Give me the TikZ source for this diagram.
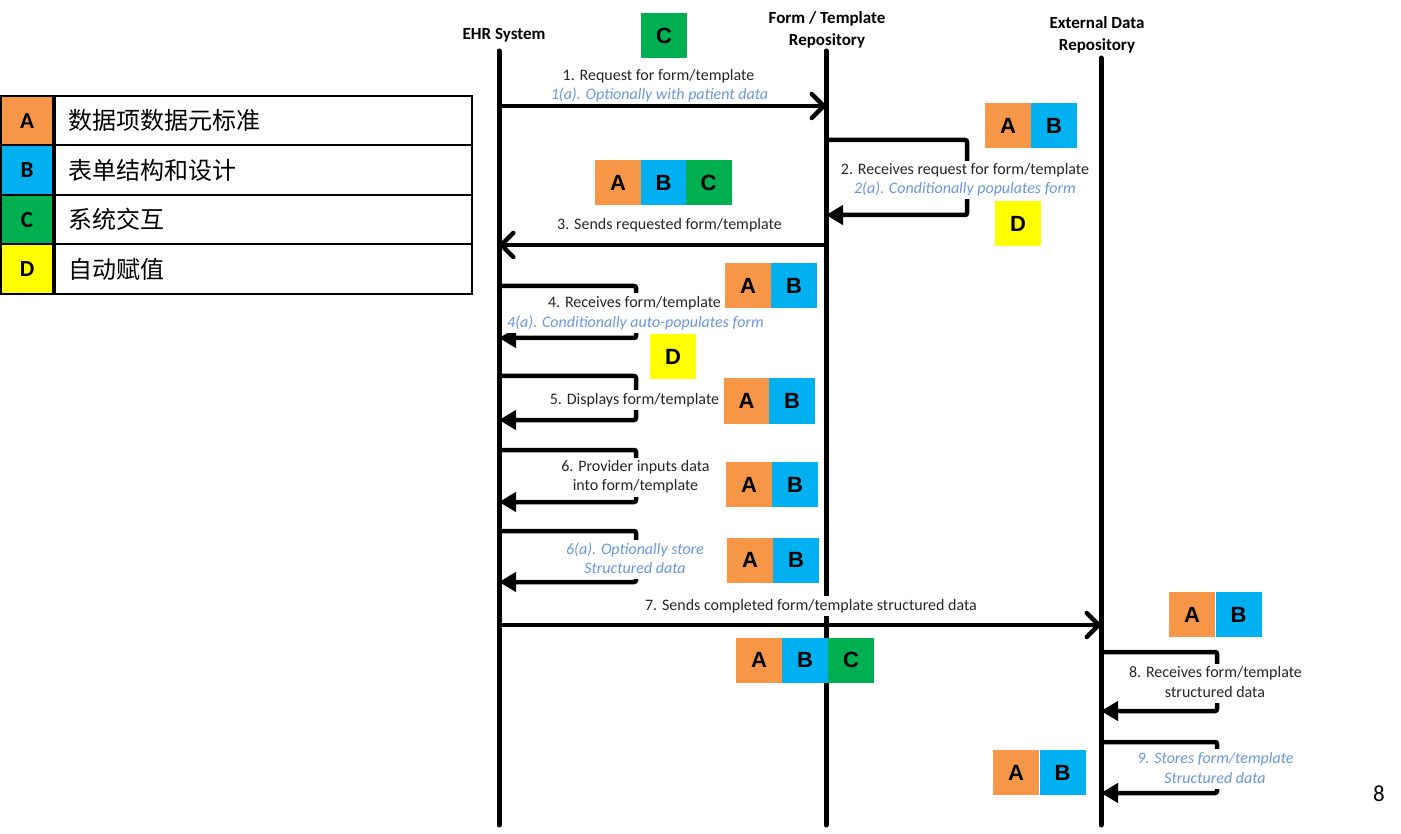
\documentclass[tikz,border=0pt]{standalone}
\usepackage{fontspec}
\setmainfont{Carlito}
\newfontfamily\cjk{Noto Sans CJK SC}
\newfontfamily\arialfont{Liberation Sans}
\usetikzlibrary{arrows.meta}
\definecolor{cA}{HTML}{F79646}
\definecolor{cB}{HTML}{00B0F0}
\definecolor{cC}{HTML}{00B050}
\definecolor{cD}{HTML}{FFFF00}
\definecolor{noteblue}{HTML}{6A98D8}
\definecolor{ink}{HTML}{262626}
\tikzset{
  lifeline/.style={line width=5pt, line cap=round},
  msg/.style={line width=4.5pt, -{Straight Barb[length=12pt,width=24pt,round]}},
  ret/.style={line width=4.5pt, rounded corners=2pt, -{Triangle[length=17pt,width=19pt]}},
  lbl/.style={fill=white, text=ink, font=\fontsize{16}{19}\selectfont, inner xsep=1pt, inner ysep=2pt, text height=12pt, text depth=4pt, anchor=base},
  notelbl/.style={lbl, text=noteblue, font=\fontsize{16}{19}\selectfont\itshape},
  badge/.style={minimum width=46pt, minimum height=45pt, inner sep=0pt, font=\arialfont\bfseries\fontsize{22}{22}\selectfont, text=black},
  hdr/.style={font=\bfseries\fontsize{17}{20}\selectfont, text=black, anchor=base},
  legkey/.style={draw=black, line width=2pt, minimum width=52pt, minimum height=49.5pt, inner sep=0pt, font=\bfseries\fontsize{23}{23}\selectfont, text=black},
  legval/.style={draw=black, line width=2pt, minimum height=49.5pt, text width=391pt, align=left, inner xsep=13pt, inner ysep=0pt, font=\cjk\fontsize{24}{26}\selectfont, text=black},
}
\begin{document}
\begin{tikzpicture}[x=1pt, y=-1pt]
\useasboundingbox (0,0) rectangle (1401,834);

% legend
\node[legkey, fill=cA] (kA) at (27,120.75) {A};
\node[legkey, fill=cB] (kB) at (27,170.25) {B};
\node[legkey, fill=cC] (kC) at (27,219.75) {C};
\node[legkey, fill=cD] (kD) at (27,269.25) {D};
\node[legval, anchor=west] (vA) at (kA.east) {数据项数据元标准};
\node[legval, anchor=west] (vB) at (kB.east) {表单结构和设计};
\node[legval, anchor=west] (vC) at (kC.east) {系统交互};
\node[legval, anchor=west] (vD) at (kD.east) {自动赋值};

% headers
\node[hdr] (hEHR) at (504,39.3) {EHR System};
\node[hdr] (hForm1) at (827,23.3) {Form / Template};
\node[hdr] (hForm2) at (827,45.3) {Repository};
\node[hdr] (hExt1) at (1097,28.3) {External Data};
\node[hdr] (hExt2) at (1097,50.3) {Repository};

% lifelines
\coordinate (ehrT) at (499,51);
\coordinate (ehrB) at (499,825);
\coordinate (frmT) at (826,51);
\coordinate (frmB) at (826,825);
\coordinate (extT) at (1101,58);
\coordinate (extB) at (1101,825);
\draw[lifeline] (ehrT) -- (ehrB);
\draw[lifeline] (frmT) -- (frmB);
\draw[lifeline] (extT) -- (extB);

% message points
\coordinate (m1a) at (499,106);  \coordinate (m1b) at (826,106);
\coordinate (m2a) at (826,140);  \coordinate (m2c) at (967,177); \coordinate (m2b) at (826,215);
\coordinate (m3a) at (826,245);  \coordinate (m3b) at (499,245);
\coordinate (m4a) at (499,286);  \coordinate (m4c) at (636,312); \coordinate (m4b) at (499,338);
\coordinate (m5a) at (499,376);  \coordinate (m5c) at (636,398); \coordinate (m5b) at (499,420);
\coordinate (m6a) at (499,450);  \coordinate (m6c) at (636,476); \coordinate (m6b) at (499,502);
\coordinate (m6xa) at (499,531); \coordinate (m6xc) at (636,556); \coordinate (m6xb) at (499,582);
\coordinate (m7a) at (499,625);  \coordinate (m7b) at (1101,625);
\coordinate (m8a) at (1101,652); \coordinate (m8c) at (1217,681); \coordinate (m8b) at (1101,711);
\coordinate (m9a) at (1101,742); \coordinate (m9c) at (1217,767); \coordinate (m9b) at (1101,793);

% connectors
\draw[msg] (m1a) -- (m1b);
\draw[ret] (m2a) -| (m2c) |- (m2b);
\draw[msg] (m3a) -- (m3b);
\draw[ret] (m4a) -| (m4c) |- (m4b);
\draw[ret] (m5a) -| (m5c) |- (m5b);
\draw[ret] (m6a) -| (m6c) |- (m6b);
\draw[ret] (m6xa) -| (m6xc) |- (m6xb);
\draw[msg] (m7a) -- (m7b);
\draw[ret] (m8a) -| (m8c) |- (m8b);
\draw[ret] (m9a) -| (m9c) |- (m9b);

% labels
\node[lbl, fill=none] (l1) at (658.5,81) {1. Request for form/template};
\node[notelbl, fill=none] (l1a) at (659.5,100) {1(a). Optionally with patient data};
\node[lbl] (l2) at (965,175) {2. Receives request for form/template};
\node[notelbl] (l2a) at (965,193.5) {2(a). Conditionally populates form};
\node[lbl, fill=none] (l3) at (669.5,230) {3. Sends requested form/template};
\node[lbl] (l4) at (634.5,307.5) {4. Receives form/template};
\node[notelbl] (l4a) at (635.5,327.3) {4(a). Conditionally auto-populates form};
\node[lbl] (l5) at (634.5,404.3) {5. Displays form/template};
\node[lbl] (l6) at (635.5,471.7) {6. Provider inputs data};
\node[lbl] (l6b) at (635.5,490.5) {into form/template};
\node[notelbl] (l6x) at (635,554.3) {6(a). Optionally store};
\node[notelbl] (l6y) at (635,573) {Structured data};
\node[lbl] (l7) at (811,610) {7. Sends completed form/template structured data};
\node[lbl] (l8) at (1215.5,677.7) {8. Receives form/template};
\node[lbl] (l8b) at (1215,697.3) {structured data};
\node[notelbl] (l9) at (1215.5,763.3) {9. Stores form/template};
\node[notelbl] (l9b) at (1215,783.3) {Structured data};

% badges
\node[badge, fill=cC] (b1C) at (664,36) {C};
\node[badge, fill=cA] (b2A) at (1008,126) {A};
\node[badge, fill=cB] (b2B) at (1054,126) {B};
\node[badge, fill=cD] (b2D) at (1018,223.5) {D};
\node[badge, fill=cA] (b3A) at (618,182.5) {A};
\node[badge, fill=cB] (b3B) at (663.5,182.5) {B};
\node[badge, fill=cC] (b3C) at (708.5,182.5) {C};
\node[badge, fill=cA] (b4A) at (748,286) {A};
\node[badge, fill=cB] (b4B) at (794,286) {B};
\node[badge, fill=cD] (b4D) at (673,356.5) {D};
\node[badge, fill=cA] (b5A) at (746.5,401) {A};
\node[badge, fill=cB] (b5B) at (792,401) {B};
\node[badge, fill=cA] (b6A) at (749,484.5) {A};
\node[badge, fill=cB] (b6B) at (795,484.5) {B};
\node[badge, fill=cA] (b6xA) at (750,560) {A};
\node[badge, fill=cB] (b6xB) at (796,560) {B};
\node[badge, fill=cA] (b7rA) at (1192,614.5) {A};
\node[badge, fill=cB] (b7rB) at (1238.5,614.5) {B};
\node[badge, fill=cA] (b7A) at (759,660) {A};
\node[badge, fill=cB] (b7B) at (805,660) {B};
\node[badge, fill=cC] (b7C) at (851,660) {C};
\node[badge, fill=cA] (b9A) at (1016,772.5) {A};
\node[badge, fill=cB] (b9B) at (1062.5,772.5) {B};

% page number
\node[anchor=base, font=\fontsize{23}{23}\selectfont, text=black] (pg) at (1379,801) {8};
\end{tikzpicture}
\end{document}
